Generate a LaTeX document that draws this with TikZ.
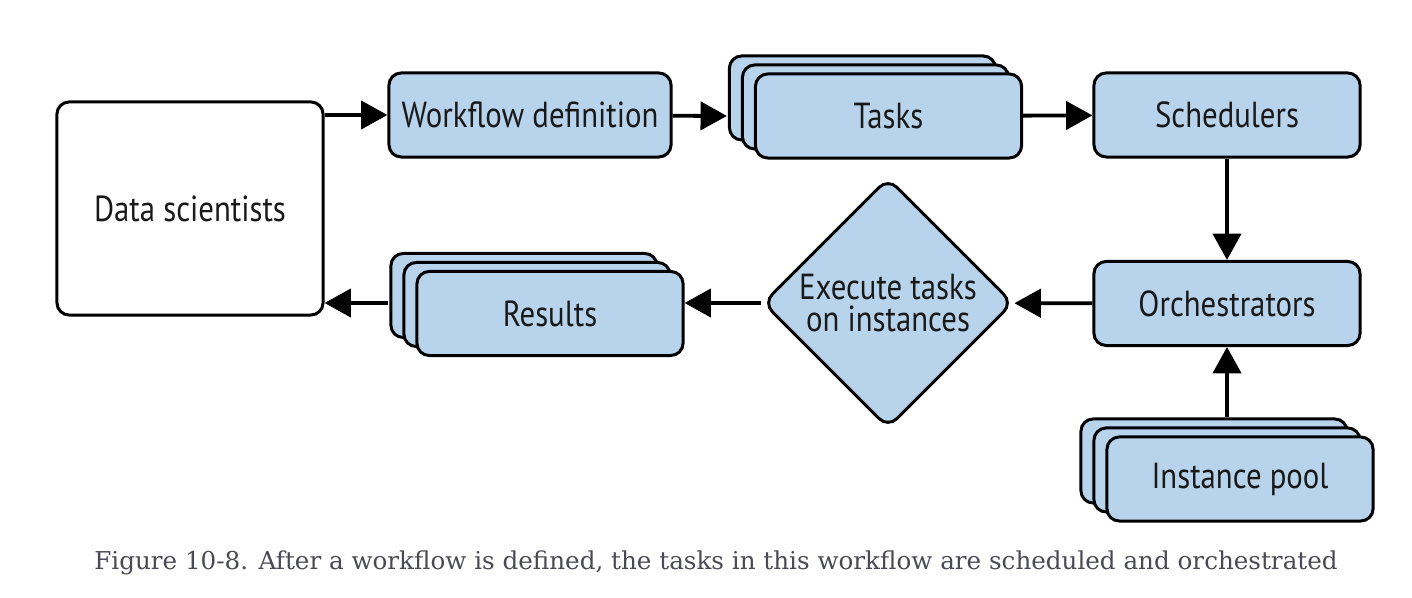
\documentclass[tikz,border=0pt]{standalone}
\usepackage{fontspec}
\setmainfont{DejaVu Serif}
\newfontfamily\boxfont[FakeStretch=0.85]{PT Sans}
\usetikzlibrary{positioning, shapes.geometric, shadows, arrows.meta}
\definecolor{boxblue}{RGB}{184,212,236}
\definecolor{captiongray}{RGB}{74,74,85}

\begin{document}
\begin{tikzpicture}[x=0.01cm, y=-0.01cm,
    every node/.style={font=\boxfont\fontsize{10.3}{9.3}\selectfont, text=black!90},
    box/.style={draw, line width=0.85pt, rounded corners=3.5pt, fill=boxblue,
      minimum width=2.66cm, minimum height=0.84cm, inner sep=0pt},
    stack/.style={box, double copy shadow={shadow xshift=-0.13cm, shadow yshift=0.09cm}},
    decision/.style={diamond, draw, line width=0.85pt, rounded corners=3.5pt, fill=boxblue,
      minimum width=2.5cm, minimum height=2.5cm, inner sep=0pt, align=center},
    flow/.style={-{Triangle[length=7.5pt,width=8pt]}, line width=1.1pt}]
      \useasboundingbox (0,0) rectangle (1412,598);

      \node[box, fill=white, minimum height=2.13cm] (scientists) at (190,208.5) {Data scientists};
      \node[box, minimum width=2.82cm] (workflow) at (530,115) {Workflow definition};
      \node[stack] (tasks) at (888.5,116) {Tasks};
      \node[box] (schedulers) at (1227,115) {Schedulers};
      \node[box] (orchestrators) at (1227,303.5) {Orchestrators};
      \node[stack] (pool) at (1240,479) {Instance pool};
      \node[decision] (execute) at (888,303) {Execute tasks\\on instances};
      \node[stack] (results) at (550,313.5) {Results};

      \node[font=\rmfamily\fontsize{7}{8}\selectfont, text=captiongray] (caption) at (716,563)
        {Figure 10-8. After a workflow is defined, the tasks in this workflow are scheduled and orchestrated};

      \draw[flow] (scientists.east |- workflow) -- (workflow);
      \draw[flow] (workflow) -- ([xshift=-0.27cm]tasks.west);
      \draw[flow] (tasks) -- (schedulers);
      \draw[flow] (schedulers) -- (orchestrators);
      \draw[flow] ([yshift=0.18cm]pool.north -| orchestrators) -- (orchestrators);
      \draw[flow] (orchestrators) -- (execute);
      \draw[flow] (execute) -- (results.east |- execute);
      \draw[flow] ([xshift=-0.27cm]results.west |- execute) -- (scientists.east |- execute);
    \end{tikzpicture}
\end{document}
